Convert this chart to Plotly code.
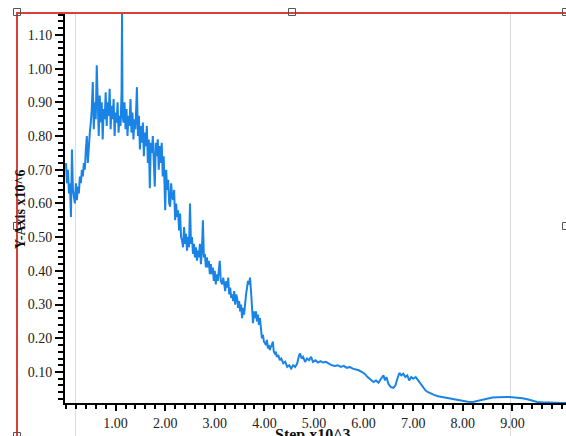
import plotly.graph_objects as go

# Step (x10^3) and value (x10^6)
steps = [
    0.00, 0.02, 0.04, 0.06, 0.08, 0.10, 0.12, 0.14, 0.16, 0.18, 0.20, 0.22, 0.24, 0.26, 0.28, 0.30,
    0.32, 0.34, 0.36, 0.38, 0.40, 0.42, 0.44, 0.46, 0.48, 0.50,
    0.52, 0.54, 0.56, 0.58, 0.60, 0.62, 0.64, 0.66, 0.68, 0.70, 0.72, 0.74, 0.76, 0.78, 0.80, 0.82,
    0.84, 0.86, 0.88, 0.90, 0.92, 0.94, 0.96, 0.98, 1.00, 1.02, 1.04, 1.06, 1.08, 1.10, 1.12, 1.13,
    1.14, 1.16,
    1.18, 1.20, 1.22, 1.24, 1.26, 1.28, 1.30, 1.32, 1.34, 1.36, 1.38, 1.40, 1.43, 1.45, 1.47, 1.49,
    1.51, 1.53, 1.55, 1.57, 1.59, 1.61, 1.63, 1.65, 1.67, 1.69, 1.71, 1.73, 1.75, 1.77, 1.79, 1.81,
    1.83, 1.85,
    1.87, 1.89, 1.91, 1.93, 1.95, 1.97, 1.99, 2.00, 2.02, 2.04, 2.06, 2.08, 2.10, 2.12, 2.14, 2.16,
    2.18, 2.20, 2.22, 2.24, 2.26, 2.28, 2.30, 2.32, 2.34, 2.36, 2.38, 2.40, 2.42, 2.44, 2.46, 2.48,
    2.50, 2.52, 2.54, 2.56, 2.58, 2.60, 2.62, 2.64, 2.66, 2.68, 2.70, 2.72, 2.74, 2.76, 2.78, 2.80,
    2.82, 2.84, 2.86, 2.88, 2.90, 2.92, 2.94, 2.96, 2.98, 3.00, 3.02, 3.04, 3.06, 3.08, 3.10, 3.12,
    3.15, 3.17, 3.19, 3.21, 3.23, 3.25, 3.27, 3.29, 3.31, 3.33, 3.35, 3.37, 3.39, 3.41, 3.43, 3.45,
    3.47, 3.49, 3.51, 3.53,
    3.55, 3.57, 3.59, 3.61, 3.63, 3.65, 3.67, 3.69, 3.71, 3.73, 3.75, 3.77, 3.79, 3.81, 3.83, 3.85,
    3.87, 3.89, 3.91, 3.93, 3.95, 3.97, 3.99, 4.01, 4.03, 4.05, 4.07, 4.09, 4.11, 4.13, 4.15, 4.17,
    4.19, 4.21, 4.23, 4.25, 4.28, 4.31, 4.34, 4.38, 4.42, 4.46, 4.50, 4.54, 4.58, 4.62, 4.66, 4.70,
    4.72, 4.75, 4.78, 4.82, 4.86, 4.90, 4.94, 4.98, 5.03, 5.08, 5.13, 5.18, 5.24, 5.30, 5.36, 5.42,
    5.48, 5.54, 5.60, 5.66, 5.72, 5.78, 5.84, 5.90, 5.96, 6.02, 6.08, 6.14, 6.20, 6.25, 6.30, 6.35,
    6.40, 6.43, 6.46, 6.50, 6.55, 6.60, 6.64, 6.68, 6.72, 6.76, 6.80, 6.84, 6.88, 6.92, 6.96, 7.00,
    7.05, 7.10, 7.15, 7.20, 7.25, 7.30, 7.35, 7.42, 7.50, 7.60, 7.70, 7.80, 7.90, 8.00, 8.10, 8.20,
    8.30, 8.40, 8.50, 8.60, 8.70, 8.80, 8.90, 9.00, 9.10, 9.20, 9.30, 9.40, 9.50, 9.60, 9.70, 9.80,
    9.90, 10.00, 10.10,
]
values = [
    0.72, 0.66, 0.70, 0.63, 0.66, 0.56, 0.76, 0.64, 0.62, 0.60, 0.66, 0.61, 0.65, 0.63, 0.68, 0.66,
    0.70, 0.68, 0.72, 0.70, 0.76, 0.80, 0.72, 0.78, 0.81, 0.84,
    0.88, 0.96, 0.82, 0.90, 0.85, 1.01, 0.86, 0.80, 0.92, 0.84, 0.90, 0.79, 0.88, 0.85, 0.93, 0.83,
    0.90, 0.86, 0.94, 0.82, 0.89, 0.85, 0.91, 0.80, 0.87, 0.84, 0.90, 0.81, 0.86, 0.83, 0.93, 1.17,
    0.86, 0.84,
    0.90, 0.82, 0.88, 0.80, 0.86, 0.83, 0.91, 0.81, 0.87, 0.79, 0.85, 0.82, 0.945, 0.80, 0.86, 0.76,
    0.83, 0.78, 0.84, 0.74, 0.81, 0.77, 0.83, 0.72, 0.79, 0.645, 0.78, 0.75, 0.80, 0.73, 0.65, 0.78,
    0.74, 0.79,
    0.70, 0.77, 0.72, 0.78, 0.68, 0.74, 0.62, 0.58, 0.70, 0.64, 0.67, 0.60, 0.59, 0.66, 0.62, 0.61,
    0.64, 0.55, 0.60, 0.56, 0.58, 0.52, 0.57, 0.50, 0.49, 0.47, 0.53, 0.48, 0.51, 0.46, 0.50, 0.47,
    0.60, 0.48, 0.50, 0.45, 0.48, 0.44, 0.47, 0.43, 0.46, 0.44, 0.48, 0.42, 0.46, 0.55, 0.44, 0.45,
    0.41, 0.44, 0.41, 0.43, 0.39, 0.42, 0.39, 0.41, 0.37, 0.40, 0.36, 0.39, 0.37, 0.40, 0.43, 0.37,
    0.36, 0.38, 0.35, 0.34, 0.37, 0.35, 0.38, 0.33, 0.35, 0.32, 0.33, 0.31, 0.34, 0.30, 0.33, 0.32,
    0.29, 0.31, 0.28, 0.30,
    0.26, 0.29, 0.27, 0.31, 0.33, 0.35, 0.37, 0.36, 0.38, 0.34, 0.30, 0.245, 0.28, 0.26, 0.28, 0.25,
    0.27, 0.24, 0.26, 0.22, 0.20, 0.21, 0.19, 0.186, 0.18, 0.195, 0.17, 0.18, 0.165, 0.175, 0.18, 0.19,
    0.16, 0.155, 0.16, 0.145, 0.15, 0.135, 0.14, 0.126, 0.13, 0.115, 0.12, 0.11, 0.12, 0.115, 0.125, 0.15,
    0.155, 0.14, 0.145, 0.13, 0.14, 0.135, 0.145, 0.13, 0.135, 0.128, 0.132, 0.128, 0.13, 0.125, 0.12, 0.118,
    0.12, 0.115, 0.118, 0.112, 0.115, 0.11, 0.108, 0.105, 0.10, 0.095, 0.085, 0.078, 0.07, 0.075, 0.068, 0.08,
    0.09, 0.075, 0.085, 0.065, 0.055, 0.053, 0.06, 0.08, 0.097, 0.09, 0.095, 0.085, 0.09, 0.075, 0.085, 0.08,
    0.085, 0.075, 0.065, 0.055, 0.045, 0.04, 0.036, 0.032, 0.028, 0.025, 0.022, 0.019, 0.017, 0.014, 0.012, 0.011,
    0.014, 0.018, 0.022, 0.024, 0.025, 0.026, 0.026, 0.025, 0.024, 0.022, 0.019, 0.015, 0.011, 0.010, 0.009, 0.008,
    0.008, 0.008, 0.008,
]

x_tick_vals = [1, 2, 3, 4, 5, 6, 7, 8, 9]
x_tick_text = ["1.00", "2.00", "3.00", "4.00", "5.00", "6.00", "7.00", "8.00", "9.00"]
y_tick_vals = [0.1, 0.2, 0.3, 0.4, 0.5, 0.6, 0.7, 0.8, 0.9, 1.0, 1.1]
y_tick_text = ["0.10", "0.20", "0.30", "0.40", "0.50", "0.60", "0.70", "0.80", "0.90", "1.00", "1.10"]
cursor_lines = [0.19, 8.96]

W, H = 566, 436
L, T, B = 65, 13, 33
PW, PH = W - L, H - T - B


def px(xp):
    return (xp - L) / PW


def py(yp):
    return (H - B - yp) / PH


fig = go.Figure()
fig.add_trace(go.Scatter(
    x=steps, y=values, mode="lines",
    line=dict(color="#1a84e6", width=2), showlegend=False, hoverinfo="skip",
))

serif = "Liberation Serif, Times New Roman, serif"

shapes = []
for cx in cursor_lines:
    shapes.append(dict(type="line", xref="x", yref="paper", x0=cx, x1=cx, y0=py(436), y1=1.0,
                       line=dict(color="#d8d8d8", width=1), layer="below"))
# red selection rectangle
shapes.append(dict(type="rect", xref="paper", yref="paper", x0=px(17), x1=px(600), y0=py(460), y1=1.0,
                   line=dict(color="#d9403a", width=2), fillcolor="rgba(0,0,0,0)"))
# small handles
for (hx, hy) in [(17, 12), (292, 12), (17, 226), (566, 226), (566, 12), (17, 436)]:
    shapes.append(dict(type="rect", xref="paper", yref="paper",
                       x0=px(hx - 3.5), x1=px(hx + 3.5), y0=py(hy + 3.5), y1=py(hy - 3.5),
                       line=dict(color="#555555", width=1), fillcolor="rgba(0,0,0,0)"))

fig.update_layout(
    width=W, height=H,
    margin=dict(l=L, r=0, t=T, b=B, pad=0),
    paper_bgcolor="white", plot_bgcolor="white",
    showlegend=False,
    shapes=shapes,
    annotations=[
        dict(text="<b>Y-Axis x10^6</b>", xref="paper", yref="paper", x=px(20), y=py(209),
             textangle=-90, showarrow=False, xanchor="center", yanchor="middle",
             font=dict(family=serif, size=14, color="#111111")),
        dict(text="<b>Step x10^3</b>", xref="paper", yref="paper", x=px(313), y=py(435),
             showarrow=False, xanchor="center", yanchor="middle",
             font=dict(family=serif, size=16, color="#111111")),
    ],
    xaxis=dict(
        range=[-0.02, 10.08], showgrid=False, zeroline=False,
        showline=True, linecolor="black", linewidth=2,
        tickmode="array", tickvals=x_tick_vals, ticktext=x_tick_text,
        ticks="outside", ticklen=6, tickwidth=2, tickcolor="black",
        minor=dict(ticks="outside", tickmode="linear", tick0=0, dtick=0.2, ticklen=4, tickwidth=1.5,
                   tickcolor="black", showgrid=False),
        tickfont=dict(family=serif, size=14, color="#222222"),
    ),
    yaxis=dict(
        range=[0.008, 1.165], showgrid=False, zeroline=False,
        showline=True, linecolor="black", linewidth=2,
        tickmode="array", tickvals=y_tick_vals, ticktext=y_tick_text,
        ticks="outside", ticklen=8, tickwidth=2, tickcolor="black",
        minor=dict(ticks="outside", tickmode="linear", tick0=0, dtick=0.02, ticklen=5, tickwidth=1.5,
                   tickcolor="black", showgrid=False),
        tickfont=dict(family=serif, size=14, color="#222222"),
    ),
)

fig.write_html(
    "out.html",
    config={"displayModeBar": False},
    post_script="document.body.style.margin='0px';document.body.style.overflow='hidden';",
)
